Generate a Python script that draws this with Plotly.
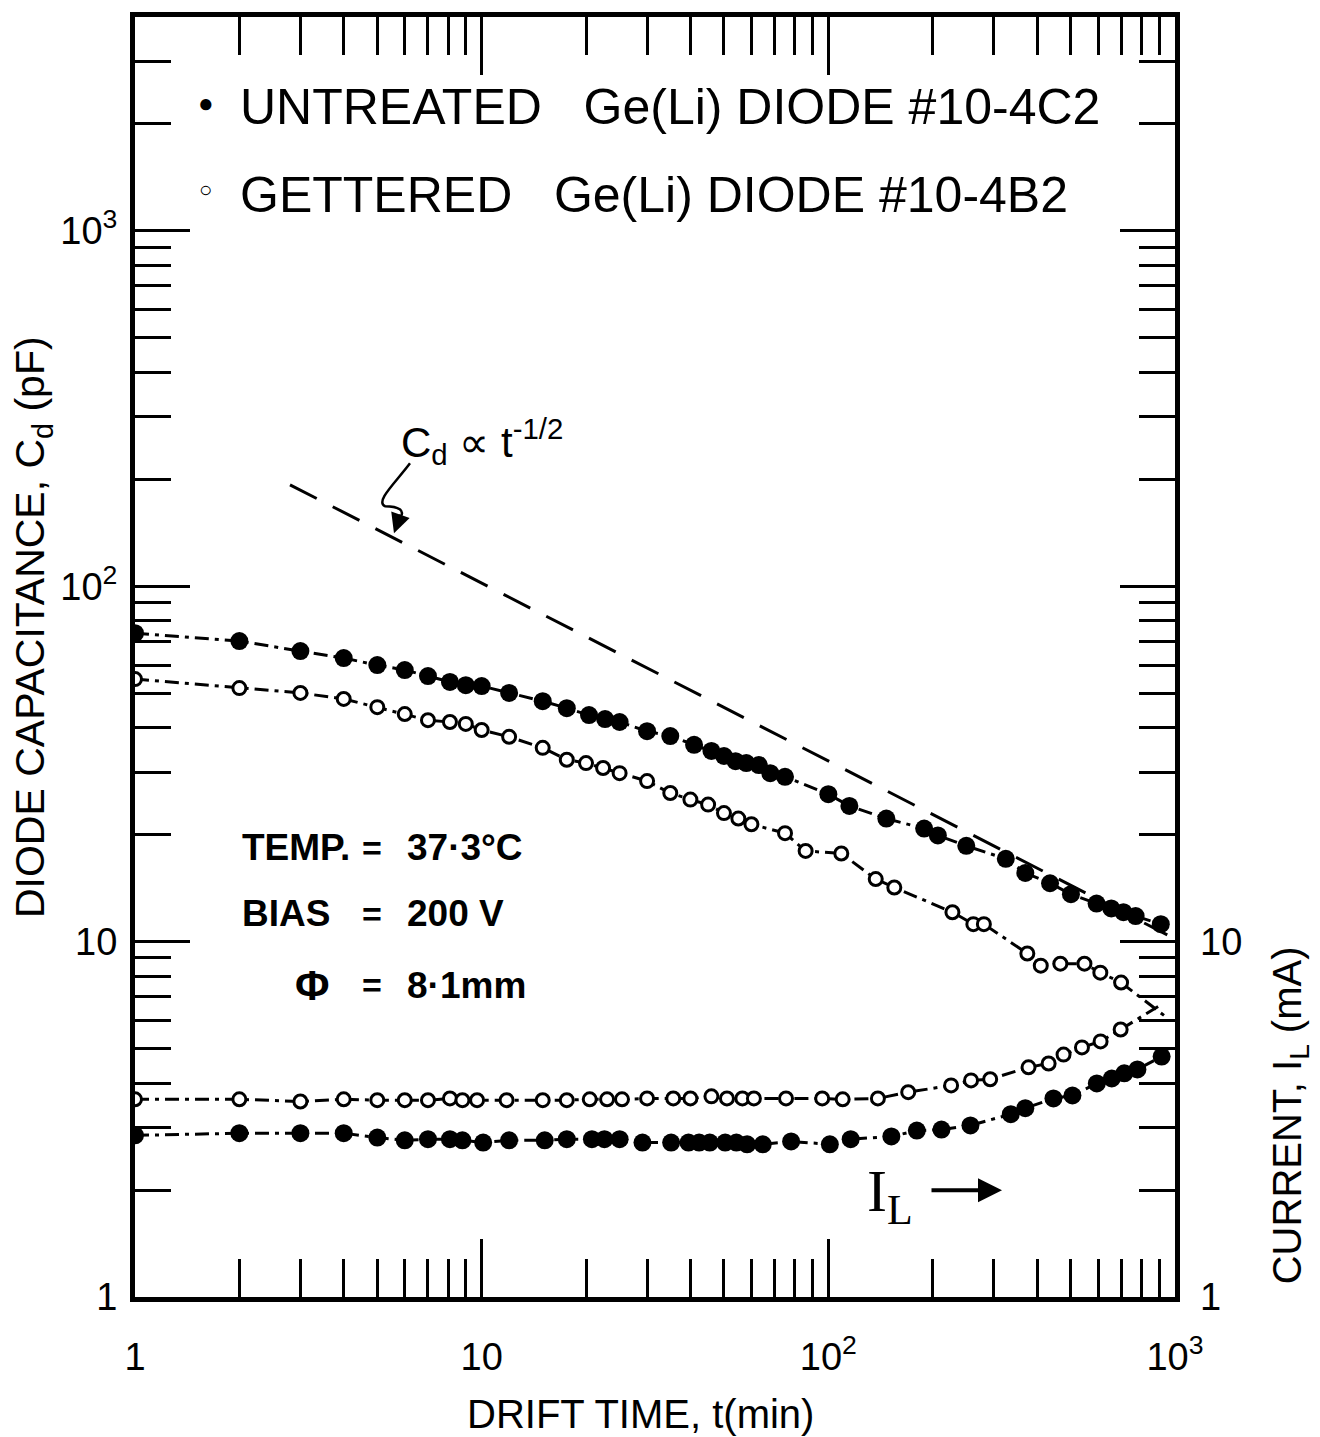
import plotly.graph_objects as go

# ---------------- data ----------------
t_untreated = [1, 2, 3, 4, 5, 6, 7, 8.1, 9, 10, 12, 15, 17.6, 20.4, 22.7, 25, 30, 35, 41, 46,
               50, 54, 58, 63, 68, 75, 100, 115, 147, 189, 207, 250, 325, 370, 436, 501, 594,
               655, 710, 770, 910]
c_untreated = [73.8, 70.1, 65.7, 62.8, 60.0, 58.1, 55.9, 53.8, 52.7, 52.4, 50.1, 47.5, 45.4,
               43.4, 42.3, 41.5, 39.1, 37.9, 35.8, 34.4, 33.3, 32.2, 31.8, 31.4, 29.8, 29.1,
               26.0, 24.1, 22.2, 20.8, 19.9, 18.6, 17.1, 15.6, 14.6, 13.6, 12.8, 12.4, 12.1,
               11.8, 11.2]

t_gettered = [1, 2, 3, 4, 5, 6, 7, 8.1, 9, 10, 12, 15, 17.6, 20, 22.4, 25, 30, 35, 40, 45,
              50, 55, 60, 75, 86, 109, 137, 155, 228, 262, 281, 375, 410, 467, 548, 609, 699]
c_gettered = [54.8, 51.7, 50.1, 48.2, 45.7, 43.7, 42.0, 41.5, 41.0, 39.4, 37.7, 35.1, 32.5,
              31.8, 30.8, 29.8, 28.3, 26.2, 25.1, 24.3, 23.0, 22.2, 21.4, 20.2, 18.0, 17.7,
              15.0, 14.2, 12.1, 11.2, 11.2, 9.26, 8.56, 8.67, 8.67, 8.18, 7.67]

ti_untreated = [1, 2, 3, 4, 5, 6, 7, 8.1, 8.8, 10.1, 12, 15.2, 17.6, 20.8, 22.6, 25, 29.1,
                35.2, 39.5, 42.4, 45.5, 50.4, 54.3, 58.3, 64.7, 78.1, 101, 116, 152, 180,
                212, 257, 336, 370, 446, 506, 595, 657, 714, 779, 915]
i_untreated = [2.85, 2.89, 2.89, 2.89, 2.81, 2.76, 2.78, 2.78, 2.76, 2.72, 2.76, 2.76, 2.78,
               2.78, 2.78, 2.78, 2.72, 2.72, 2.72, 2.72, 2.72, 2.72, 2.72, 2.69, 2.69, 2.74,
               2.69, 2.78, 2.83, 2.94, 2.96, 3.04, 3.27, 3.40, 3.62, 3.69, 3.99, 4.12, 4.26,
               4.37, 4.75]

ti_gettered = [1, 2, 3, 4, 5, 6, 7, 8.1, 8.8, 9.7, 11.8, 15, 17.6, 20.5, 23, 25.4, 30, 35.7,
               40, 46, 51, 56.5, 61, 75.5, 96, 110, 139, 170, 226, 258, 293, 378, 432, 477,
               539, 610, 697]
i_gettered = [3.60, 3.60, 3.55, 3.60, 3.58, 3.58, 3.58, 3.62, 3.58, 3.58, 3.58, 3.58, 3.58,
              3.60, 3.60, 3.60, 3.62, 3.62, 3.62, 3.67, 3.62, 3.62, 3.62, 3.62, 3.62, 3.60,
              3.62, 3.77, 3.94, 4.07, 4.10, 4.43, 4.54, 4.81, 5.04, 5.24, 5.66]

# line continuations toward the right axis (no markers)
tail_gc_t = [699, 930]
tail_gc_v = [7.67, 6.2]
tail_gi_t = [697, 900]
tail_gi_v = [5.66, 6.6]

# reference slope line  C_d ~ t^-1/2 (end points)
ref_t = [2.8, 950]
ref_c = [193, 10.45]

x_tickvals = [1, 10, 100, 1000]
x_ticktext = ["1", "10", "10<sup>2</sup>", "10<sup>3</sup>"]
y_tickvals = [1, 10, 100, 1000]
y_ticktext = ["1", "10", "10<sup>2</sup>", "10<sup>3</sup>"]
y2_tickvals = [1, 10]
y2_ticktext = ["1", "10"]

# ---------------- layout geometry ----------------
W, H = 1320, 1437
L, R, T, B = 135, 1175, 15, 1297
PW, PH = R - L, B - T


def px(x):
    return (x - L) / PW


def py(y):
    return (B - y) / PH


FONT = "Liberation Sans, Arial, sans-serif"
BLACK = "black"

x_minor = [d * 10 ** k for k in range(0, 3) for d in range(2, 10)]
y_minor = [d * 10 ** k for k in range(0, 4) for d in range(2, 10) if d * 10 ** k <= 4000]

fig = go.Figure()

line_style = dict(color=BLACK, width=3, dash="14px,6px,4px,6px")

fig.add_trace(go.Scatter(x=ref_t, y=ref_c, mode="lines",
                         line=dict(color=BLACK, width=3, dash="30px,18px"), showlegend=False))

fig.add_trace(go.Scatter(x=tail_gc_t, y=tail_gc_v, mode="lines", line=line_style, showlegend=False))
fig.add_trace(go.Scatter(x=tail_gi_t, y=tail_gi_v, mode="lines", line=line_style,
                         yaxis="y2", showlegend=False))

fig.add_trace(go.Scatter(x=t_untreated, y=c_untreated, mode="lines+markers", line=line_style,
                         marker=dict(symbol="circle", size=18, color=BLACK),
                         name="UNTREATED", showlegend=False))
fig.add_trace(go.Scatter(x=t_gettered, y=c_gettered, mode="lines+markers", line=line_style,
                         marker=dict(symbol="circle", size=13, color="white",
                                     line=dict(color=BLACK, width=3)),
                         name="GETTERED", showlegend=False))
fig.add_trace(go.Scatter(x=ti_untreated, y=i_untreated, mode="lines+markers", line=line_style,
                         marker=dict(symbol="circle", size=18, color=BLACK),
                         yaxis="y2", showlegend=False))
fig.add_trace(go.Scatter(x=ti_gettered, y=i_gettered, mode="lines+markers", line=line_style,
                         marker=dict(symbol="circle", size=13, color="white",
                                     line=dict(color=BLACK, width=3)),
                         yaxis="y2", showlegend=False))

axis_common = dict(type="log", showgrid=False, zeroline=False, showline=True,
                   linecolor=BLACK, linewidth=5, ticks="inside", tickcolor=BLACK,
                   tickwidth=2.5, tickfont=dict(family=FONT, size=38, color=BLACK))

fig.update_layout(
    width=W, height=H,
    margin=dict(l=L, r=W - R, t=T, b=H - B),
    paper_bgcolor="white", plot_bgcolor="white",
    xaxis=dict(axis_common, range=[0, 3], mirror="ticks",
               tickmode="array", tickvals=x_tickvals, ticktext=x_ticktext, ticklen=58,
               ticklabelstandoff=22,
               minor=dict(tickmode="array", tickvals=x_minor, ticks="inside", ticklen=38,
                          tickwidth=2.5, tickcolor=BLACK, showgrid=False)),
    yaxis=dict(axis_common, range=[0, 3.602], mirror="ticks",
               tickmode="array", tickvals=y_tickvals, ticktext=y_ticktext, ticklen=55,
               ticklabelstandoff=5,
               minor=dict(tickmode="array", tickvals=y_minor, ticks="inside", ticklen=36,
                          tickwidth=2.5, tickcolor=BLACK, showgrid=False)),
    yaxis2=dict(type="log", range=[0, 3.602], overlaying="y", side="right", showgrid=False,
                zeroline=False, showline=False, ticks="", tickmode="array",
                tickvals=y2_tickvals, ticktext=y2_ticktext, ticklabelstandoff=24,
                tickfont=dict(family=FONT, size=38, color=BLACK)),
)

ann = []


def text(x, y, s, size, anchor="center", angle=0, family=FONT):
    ann.append(dict(xref="paper", yref="paper", x=px(x), y=py(y), text=s, showarrow=False,
                    xanchor=anchor, yanchor="middle", textangle=angle,
                    font=dict(family=family, size=size, color=BLACK)))


def arrow(x_head, y_head, x_tail, y_tail, width, size):
    ann.append(dict(xref="paper", yref="paper", x=px(x_head), y=py(y_head),
                    ax=x_tail - x_head, ay=y_tail - y_head, axref="pixel", ayref="pixel",
                    showarrow=True, arrowhead=2, arrowsize=size, arrowwidth=width,
                    arrowcolor=BLACK, text=""))


SP3 = "&nbsp;&nbsp;&nbsp;"
# legend-like header text
text(206, 101, "●", 26)
text(238, 105, "UNTREATED" + SP3 + "Ge(Li) DIODE #10-4C2", 50, anchor="left")
text(205, 188, "○", 22)
text(238, 193, "GETTERED" + SP3 + "Ge(Li) DIODE #10-4B2", 50, anchor="left")

# condition block
for yy, lab, val in [(847, "TEMP.", "37·3°C"), (913, "BIAS", "200 V"), (985, "", "8·1mm")]:
    if lab:
        text(240, yy, "<b>" + lab + "</b>", 37, anchor="left")
    text(372, yy, "<b>=</b>", 34)
    text(405, yy, "<b>" + val + "</b>", 37, anchor="left")
text(312, 985, "<b>Φ</b>", 42)

# slope label
text(482, 440, "C<sub>d</sub> ∝ t<sup>-1/2</sup>", 42)

# I_L arrow
text(890, 1195, "I<sub>L</sub>", 60, family="Liberation Serif, DejaVu Serif, serif")
arrow(1002, 1190, 930, 1190, 4, 1.2)

# curly pointer head
arrow(394, 532, 401, 512, 3, 1.3)

# axis titles
text(33, 626, "DIODE CAPACITANCE, C<sub>d</sub> (pF)", 41, angle=-90)
text(1290, 1115, "CURRENT, I<sub>L</sub> (mA)", 40, angle=-90)
text(640, 1414, "DRIFT TIME, t(min)", 40)

fig.update_layout(annotations=ann)

# squiggle path (decorative, in paper coords)
pts = [(410, 462), (395, 482), (375, 500), (385, 505), (400, 505), (404, 510), (401, 515)]
path = "M {} {} C {} {}, {} {}, {} {} C {} {}, {} {}, {} {}".format(
    px(pts[0][0]), py(pts[0][1]), px(pts[1][0]), py(pts[1][1]), px(pts[2][0]), py(pts[2][1]),
    px(pts[3][0]), py(pts[3][1]), px(pts[4][0]), py(pts[4][1]), px(pts[5][0]), py(pts[5][1]),
    px(pts[6][0]), py(pts[6][1]))
fig.add_shape(type="path", path=path, xref="paper", yref="paper",
              line=dict(color=BLACK, width=2.5))

fig.write_html("out.html")
